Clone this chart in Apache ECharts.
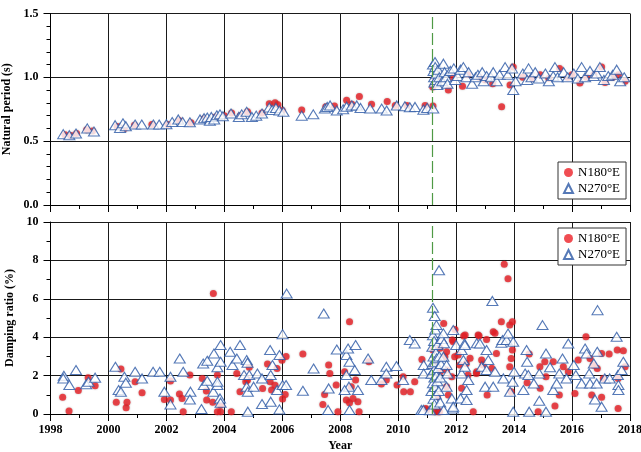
<!DOCTYPE html>
<html>
<head>
<meta charset="utf-8">
<script src="https://cdn.jsdelivr.net/npm/echarts@6/dist/echarts.min.js"></script>
<style>
  html, body { margin: 0; padding: 0; background: #fff; }
  #chart { width: 641px; height: 452px; }
</style>
</head>
<body>
<div id="chart"></div>
<script>
// Year of the step change marked by the dashed line
const eventYear = 2011.19;

// Legend / series names
const seriesNames = ['N180\u00b0E', 'N270\u00b0E'];

// Natural period (s), direction N180°E: [year, value]
const periodN180 = [
  [1998.5,0.55],[1998.7,0.545],[1998.9,0.56],[1999.25,0.59],[1999.45,0.58],
  [2000.3,0.615],[2000.55,0.6],[2000.9,0.625],[2001.5,0.63],[2002.05,0.63],
  [2002.45,0.66],[2002.85,0.645],[2003.3,0.675],[2003.7,0.69],[2004.0,0.7],
  [2004.25,0.72],[2004.55,0.7],[2004.8,0.73],[2005.3,0.72],[2005.55,0.794],
  [2005.75,0.8],[2005.85,0.785],[2006.0,0.74],[2006.67,0.745],[2007.5,0.77],
  [2007.8,0.775],[2008.22,0.82],[2008.4,0.79],[2008.66,0.85],[2009.08,0.79],
  [2009.62,0.81],[2009.9,0.78],[2010.3,0.78],[2010.93,0.78],[2011.2,0.775],
  [2011.19,0.925],[2011.25,1.0],[2011.3,1.05],[2011.4,0.98],[2011.73,0.9],
  [2011.9,1.0],[2012.22,0.93],[2012.4,1.02],[2012.79,1.0],[2013.0,0.98],
  [2013.26,0.95],[2013.57,0.77],[2013.86,0.94],[2013.97,1.08],[2014.3,1.0],
  [2014.6,0.99],[2014.9,1.02],[2015.2,0.99],[2015.57,1.07],[2015.85,1.0],
  [2016.0,1.02],[2016.27,0.955],[2016.5,1.0],[2016.75,1.02],[2017.02,1.08],
  [2017.14,0.96],[2017.4,1.0],[2017.6,1.02],[2017.83,0.97]
];

// Natural period (s), direction N270°E: [year, value]
const periodN270 = [
  [1998.44,0.555],[1998.65,0.547],[1998.88,0.56],[1999.27,0.6],[1999.5,0.575],
  [2000.23,0.625],[2000.4,0.604],[2000.5,0.64],[2000.6,0.617],[2000.92,0.63],
  [2001.15,0.63],[2001.55,0.63],[2001.75,0.63],[2002.0,0.633],[2002.2,0.65],
  [2002.41,0.67],[2002.56,0.65],[2002.81,0.648],[2003.16,0.67],[2003.3,0.68],
  [2003.41,0.685],[2003.5,0.66],[2003.55,0.69],[2003.65,0.67],[2003.74,0.703],
  [2003.85,0.71],[2003.95,0.695],[2004.23,0.716],[2004.5,0.69],[2004.6,0.71],
  [2004.77,0.73],[2004.95,0.69],[2005.1,0.7],[2005.3,0.716],[2005.55,0.763],
  [2005.65,0.745],[2005.78,0.76],[2005.9,0.74],[2006.04,0.73],[2006.67,0.70],
  [2007.07,0.71],[2007.47,0.755],[2007.55,0.768],[2007.65,0.78],[2007.88,0.74],
  [2008.1,0.75],[2008.22,0.77],[2008.4,0.78],[2008.57,0.78],[2008.7,0.76],
  [2009.03,0.755],[2009.43,0.755],[2009.6,0.74],[2009.95,0.78],[2010.23,0.773],
  [2010.4,0.765],[2010.58,0.768],[2010.87,0.747],[2011.0,0.76],[2011.21,0.755],
  [2011.2,1.1],[2011.22,1.05],[2011.24,1.0],[2011.25,0.96],[2011.27,1.12],
  [2011.28,1.08],[2011.3,0.98],[2011.32,1.03],[2011.35,0.94],[2011.38,1.06],
  [2011.42,1.0],[2011.56,1.107],[2011.52,0.97],[2011.6,1.04],[2011.65,1.0],
  [2011.7,0.95],[2011.8,1.05],[2011.92,1.07],[2011.97,0.98],[2012.05,1.01],
  [2012.15,1.06],[2012.25,1.08],[2012.35,1.0],[2012.43,1.04],[2012.55,0.95],
  [2012.67,1.0],[2012.75,1.02],[2012.9,1.04],[2012.95,0.97],[2013.05,1.01],
  [2013.2,1.0],[2013.28,1.04],[2013.4,0.97],[2013.5,1.02],[2013.69,1.08],
  [2013.78,1.02],[2013.93,1.07],[2013.97,0.9],[2014.05,0.97],[2014.3,1.03],
  [2014.45,0.98],[2014.5,1.07],[2014.6,1.0],[2014.73,1.04],[2014.85,0.99],
  [2015.08,1.03],[2015.2,0.97],[2015.35,1.01],[2015.41,1.08],[2015.5,1.0],
  [2015.71,1.04],[2015.85,1.0],[2016.06,1.03],[2016.2,0.99],[2016.33,1.08],
  [2016.45,1.0],[2016.62,1.05],[2016.75,1.01],[2016.85,1.03],[2016.96,1.08],
  [2017.1,0.98],[2017.25,1.01],[2017.4,1.02],[2017.54,1.06],[2017.66,0.97],
  [2017.8,1.0]
];

// Damping ratio (%), direction N180°E: [year, value]
const dampingN180 = [
  [1998.42,0.87],[1998.64,0.16],[1998.96,1.23],[1999.3,1.89],[1999.54,1.47],
  [2000.27,0.61],[2000.43,2.34],[2000.61,0.33],[2000.64,0.61],[2000.92,1.68],
  [2001.16,1.11],[2001.93,0.76],[2002.14,0.73],[2002.14,1.72],[2002.45,1.04],
  [2002.54,0.81],[2002.58,0.12],[2002.81,2.03],[2003.24,1.85],[2003.38,1.2],
  [2003.39,0.73],[2003.62,6.27],[2003.6,0.61],[2003.76,2.03],[2003.87,0.47],
  [2003.87,0.12],[2003.76,0.12],[2004.24,0.12],[2004.43,2.11],[2004.54,1.16],
  [2004.8,1.77],[2004.86,2.43],[2004.74,1.68],[2005.32,1.33],[2005.49,2.6],
  [2005.58,1.68],[2005.63,1.25],[2005.75,1.5],[2005.82,2.37],[2005.99,2.8],
  [2006.13,3.0],[2006.01,0.78],[2006.1,1.02],[2006.71,3.12],[2007.4,0.5],
  [2007.46,1.02],[2007.6,2.55],[2007.64,2.11],[2007.86,1.51],[2007.92,0.12],
  [2008.15,2.2],[2008.32,4.8],[2008.21,0.73],[2008.32,0.59],[2008.38,1.42],
  [2008.53,1.77],[2008.61,0.64],[2008.65,0.12],[2008.44,0.81],[2008.99,2.72],
  [2009.42,1.56],[2009.59,1.77],[2009.96,1.51],[2010.17,1.94],[2010.19,1.16],
  [2010.42,1.16],[2010.57,1.68],[2010.82,2.84],[2010.95,0.29],[2010.98,0.21],
  [2011.2,3.33],[2011.22,2.5],[2011.26,0.12],[2011.29,2.81],[2011.3,1.8],
  [2011.35,0.9],[2011.38,0.12],[2011.43,0.12],[2011.44,3.42],[2011.45,2.2],
  [2011.57,4.71],[2011.61,2.98],[2011.67,3.24],[2011.67,2.29],[2011.67,1.42],
  [2011.73,0.99],[2011.85,1.94],[2011.87,3.85],[2011.9,3.76],[2011.95,2.98],
  [2011.96,4.4],[2012.07,3.07],[2012.13,2.55],[2012.19,1.34],[2012.26,4.06],
  [2012.31,4.11],[2012.35,2.63],[2012.41,2.03],[2012.48,2.9],[2012.59,0.12],
  [2012.7,2.11],[2012.71,2.2],[2012.76,4.11],[2012.79,4.06],[2012.88,2.81],
  [2012.93,2.55],[2013.05,3.88],[2013.07,0.99],[2013.23,2.38],[2013.28,4.28],
  [2013.34,4.2],[2013.39,3.15],[2013.56,4.8],[2013.66,7.8],[2013.79,7.05],
  [2013.85,4.63],[2013.94,4.8],[2013.94,3.33],[2013.9,2.89],[2013.85,2.46],
  [2013.9,1.16],[2014.45,1.63],[2014.52,3.12],[2014.83,0.12],[2014.89,2.46],
  [2014.9,1.34],[2015.06,2.72],[2015.1,1.94],[2015.35,2.72],[2015.41,0.42],
  [2015.56,0.99],[2015.7,2.46],[2015.87,2.2],[2016.1,1.07],[2016.21,2.81],
  [2016.48,4.02],[2016.62,2.89],[2016.68,0.99],[2016.73,2.55],[2016.87,2.37],
  [2017.02,3.15],[2017.02,0.87],[2017.08,1.85],[2017.28,3.12],[2017.56,3.33],
  [2017.59,0.29],[2017.59,1.85],[2017.77,3.29],[2017.83,2.46]
];

// Damping ratio (%), direction N270°E: [year, value]
const dampingN270 = [
  [1998.46,1.99],[1998.44,1.85],[1998.65,1.51],[1998.88,2.29],[1999.23,1.55],
  [1999.31,1.68],[1999.54,1.89],[2000.24,2.46],[2000.35,1.25],[2000.43,1.16],
  [2000.55,1.94],[2000.6,1.63],[2000.92,2.2],[2001.16,1.85],[2001.54,2.2],
  [2001.77,2.2],[2001.93,1.16],[2002.14,1.94],[2002.14,0.5],[2002.46,2.89],
  [2002.58,2.2],[2002.83,1.16],[2002.81,0.76],[2003.21,0.26],[2003.27,2.63],
  [2003.41,2.77],[2003.29,1.51],[2003.41,1.73],[2003.64,3.15],[2003.62,1.16],
  [2003.76,1.51],[2003.76,2.43],[2003.76,1.68],[2003.87,3.59],[2003.87,2.72],
  [2003.85,0.81],[2003.87,0.59],[2004.2,3.24],[2004.28,2.55],[2004.43,2.89],
  [2004.54,3.59],[2004.68,2.03],[2004.77,2.81],[2004.8,2.67],[2004.77,1.42],
  [2004.81,1.16],[2004.81,0.12],[2004.86,2.03],[2005.01,1.42],[2005.14,2.11],
  [2005.3,1.85],[2005.3,0.52],[2005.58,3.33],[2005.6,0.64],[2005.66,2.55],
  [2005.6,2.03],[2005.82,1.25],[2005.9,3.07],[2005.9,0.24],[2006.01,4.16],
  [2006.01,1.51],[2006.15,6.27],[2006.13,1.51],[2006.71,1.21],[2007.08,2.37],
  [2007.43,5.23],[2007.6,1.33],[2007.58,0.21],[2007.88,3.36],[2008.21,3.07],
  [2008.27,3.41],[2008.32,2.72],[2008.5,2.29],[2008.53,3.59],[2008.21,2.03],
  [2008.3,1.42],[2008.15,1.25],[2008.61,1.25],[2008.32,0.21],[2008.96,2.89],
  [2009.07,1.77],[2009.42,1.77],[2009.59,2.46],[2009.59,2.11],[2009.94,2.5],
  [2010.17,1.77],[2010.4,3.85],[2010.57,3.67],[2010.8,0.21],[2010.87,0.21],
  [2010.88,2.55],[2010.88,2.11],[2011.1,0.2],[2011.15,2.1],[2011.15,1.2],
  [2011.18,3.5],[2011.18,2.6],[2011.2,4.1],[2011.2,1.6],[2011.2,5.53],
  [2011.22,0.8],[2011.22,3.0],[2011.24,2.3],[2011.24,3.8],[2011.25,1.9],
  [2011.25,0.5],[2011.26,5.1],[2011.27,2.7],[2011.27,1.4],[2011.28,4.4],
  [2011.3,3.2],[2011.3,1.0],[2011.32,4.63],[2011.32,2.0],[2011.33,2.9],
  [2011.35,1.7],[2011.35,3.6],[2011.38,2.4],[2011.4,1.2],[2011.41,7.49],
  [2011.42,3.0],[2011.45,1.9],[2011.45,0.6],[2011.48,2.6],[2011.5,3.9],
  [2011.56,4.2],[2011.57,0.21],[2011.58,3.68],[2011.56,2.98],[2011.67,2.55],
  [2011.7,2.11],[2011.67,1.42],[2011.85,0.81],[2011.89,0.29],[2011.9,4.37],
  [2011.9,0.38],[2012.0,3.59],[2012.15,0.81],[2012.19,3.33],[2012.19,2.11],
  [2012.25,2.81],[2012.29,3.67],[2012.3,3.59],[2012.3,2.46],[2012.36,1.25],
  [2012.36,0.73],[2012.42,1.77],[2012.71,3.68],[2012.82,3.67],[2012.88,2.46],
  [2013.0,1.42],[2013.05,3.33],[2013.05,2.29],[2013.11,2.81],[2013.25,5.89],
  [2013.28,1.42],[2013.34,2.2],[2013.56,3.71],[2013.6,3.85],[2013.63,1.85],
  [2013.74,3.85],[2013.79,4.19],[2013.86,1.16],[2013.95,1.68],[2013.97,3.76],
  [2013.97,0.12],[2014.0,2.2],[2014.32,1.25],[2014.38,2.11],[2014.43,3.33],
  [2014.45,2.72],[2014.49,2.03],[2014.52,0.12],[2014.68,1.59],[2014.87,0.69],
  [2014.87,2.11],[2014.98,4.63],[2015.1,3.15],[2015.1,0.12],[2015.24,2.43],
  [2015.35,1.25],[2015.47,1.59],[2015.56,2.11],[2015.67,2.89],[2015.81,1.85],
  [2015.87,3.67],[2016.06,2.55],[2016.13,2.03],[2016.33,1.59],[2016.45,3.41],
  [2016.5,3.15],[2016.59,2.11],[2016.62,1.59],[2016.75,2.63],[2016.79,0.76],
  [2016.85,1.59],[2016.88,5.41],[2016.87,3.24],[2017.02,0.38],[2017.13,1.85],
  [2017.3,1.85],[2017.54,4.02],[2017.58,2.03],[2017.6,1.51],[2017.6,1.25],
  [2017.71,2.29],[2017.77,2.72]
];

const RED = '#ec2027';
const BLUE = '#2b57a5';
const FONT = '"Liberation Serif", "Times New Roman", serif';

const redStyle = {
  color: RED,
  shadowBlur: 2,
  shadowColor: 'rgba(0,0,0,0.35)'
};
// Open triangles: white fill so they sit cleanly over the circles
const triStyle = {
  color: '#ffffff',
  borderColor: BLUE,
  borderWidth: 1.1
};

const gridLine = { show: true, lineStyle: { color: '#1a1a1a', width: 1 } };
const axisLine = { show: true, lineStyle: { color: '#000', width: 1 } };
const tickLabel = { color: '#000', fontFamily: FONT, fontWeight: 'bold', fontSize: 12 };

function xAxisFor(gridIndex, showLabels) {
  return {
    type: 'value', gridIndex, min: 1998, max: 2018, interval: 2,
    axisLine, splitLine: gridLine,
    axisTick: { show: true, inside: false, length: 7, lineStyle: { color: '#000' } },
    minorTick: { show: true, splitNumber: 2, length: 4, lineStyle: { color: '#000' } },
    axisLabel: Object.assign({ show: showLabels, margin: 10, formatter: v => String(v) }, tickLabel),
    name: showLabels ? 'Year' : '',
    nameLocation: 'middle', nameGap: 26,
    nameTextStyle: { color: '#000', fontFamily: FONT, fontWeight: 'bold', fontSize: 12 }
  };
}

function yAxisFor(gridIndex, min, max, interval, minorSplit, name, fmt) {
  return {
    type: 'value', gridIndex, min, max, interval,
    axisLine, splitLine: gridLine,
    axisTick: { show: true, inside: false, length: 7, lineStyle: { color: '#000' } },
    minorTick: { show: true, splitNumber: minorSplit, length: 4, lineStyle: { color: '#000' } },
    axisLabel: Object.assign({ margin: 12, formatter: fmt }, tickLabel),
    name, nameLocation: 'middle', nameGap: 32,
    nameTextStyle: { color: '#000', fontFamily: FONT, fontWeight: 'bold', fontSize: 12 }
  };
}

const eventLine = {
  silent: true,
  symbol: 'none',
  label: { show: false },
  lineStyle: { color: '#4f9a45', type: [12, 4], width: 1.2 },
  data: [{ xAxis: eventYear }]
};

function legendAt(top) {
  return {
    left: 558, top,
    orient: 'vertical',
    data: seriesNames,
    backgroundColor: '#fff',
    borderColor: '#333', borderWidth: 1,
    padding: [4, 6, 4, 5],
    itemGap: 3, itemWidth: 9, itemHeight: 9,
    textStyle: { color: '#000', fontFamily: FONT, fontSize: 13 },
    selectedMode: false
  };
}

const chart = echarts.init(document.getElementById('chart'), null, { renderer: 'canvas' });
chart.setOption({
  animation: false,
  backgroundColor: '#fff',
  grid: [
    { left: 50.5, right: 11, top: 13.5, height: 191.5, outerBoundsMode: 'none', containLabel: false },
    { left: 50.5, right: 11, top: 222, height: 192, outerBoundsMode: 'none', containLabel: false }
  ],
  xAxis: [xAxisFor(0, false), xAxisFor(1, true)],
  yAxis: [
    yAxisFor(0, 0, 1.5, 0.5, 5, 'Natural period (s)', v => v.toFixed(1)),
    yAxisFor(1, 0, 10, 2, 2, 'Damping ratio (%)', v => String(v))
  ],
  legend: [legendAt(162), legendAt(228)],
  series: [
    {
      name: seriesNames[0], type: 'scatter', xAxisIndex: 0, yAxisIndex: 0,
      symbol: 'circle', symbolSize: 7, itemStyle: redStyle, data: periodN180
    },
    {
      name: seriesNames[1], type: 'scatter', xAxisIndex: 0, yAxisIndex: 0,
      symbol: 'triangle', symbolSize: [11, 9], itemStyle: triStyle, data: periodN270,
      markLine: eventLine
    },
    {
      name: seriesNames[0], type: 'scatter', xAxisIndex: 1, yAxisIndex: 1,
      symbol: 'circle', symbolSize: 7, itemStyle: redStyle, data: dampingN180
    },
    {
      name: seriesNames[1], type: 'scatter', xAxisIndex: 1, yAxisIndex: 1,
      symbol: 'triangle', symbolSize: [11, 9], itemStyle: triStyle, data: dampingN270,
      markLine: eventLine
    }
  ]
});
</script>
</body>
</html>
